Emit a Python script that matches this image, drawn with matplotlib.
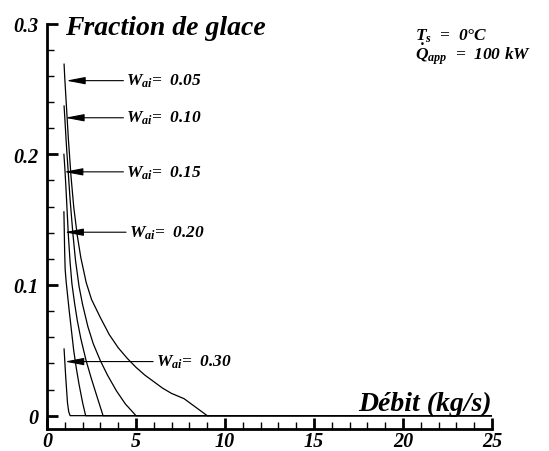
import matplotlib
matplotlib.use("Agg")
import matplotlib.pyplot as plt
from matplotlib.ticker import MultipleLocator, FuncFormatter

plt.rcParams['font.family'] = ['Liberation Serif', 'DejaVu Serif']
plt.rcParams['font.style'] = 'italic'
plt.rcParams['font.weight'] = 'bold'
plt.rcParams['mathtext.fontset'] = 'custom'
plt.rcParams['mathtext.rm'] = 'Liberation Serif:italic:bold'
plt.rcParams['mathtext.it'] = 'Liberation Serif:italic:bold'
plt.rcParams['mathtext.bf'] = 'Liberation Serif:italic:bold'

# ice fraction vs mass flow, one curve per Wai
x_005 = [0.96, 1.0, 1.1, 1.2, 1.35, 1.5, 1.7, 1.9, 2.2, 2.5, 3.0, 3.5, 4.0, 4.5, 5.0,
         5.5, 6.0, 6.5, 7.0, 7.7, 8.3, 9.0, 25]
y_005 = [0.269, 0.258, 0.235, 0.212, 0.183, 0.160, 0.138, 0.121, 0.102, 0.089, 0.075,
         0.062, 0.052, 0.044, 0.037, 0.031, 0.026, 0.021, 0.017, 0.013, 0.007, 0.0, 0.0]

x_010 = [0.96, 1.0, 1.1, 1.2, 1.3, 1.45, 1.6, 1.8, 2.0, 2.3, 2.6, 3.0, 3.4, 3.9, 4.4, 5.0, 25]
y_010 = [0.237, 0.228, 0.205, 0.185, 0.165, 0.140, 0.119, 0.099, 0.085, 0.068, 0.055,
         0.042, 0.031, 0.019, 0.009, 0.0, 0.0]

x_015 = [0.95, 1.0, 1.05, 1.1, 1.2, 1.3, 1.4, 1.55, 1.7, 1.9, 2.2, 2.5, 2.8, 3.15, 25]
y_015 = [0.200, 0.190, 0.178, 0.165, 0.138, 0.117, 0.101, 0.086, 0.073, 0.059, 0.042,
         0.028, 0.015, 0.0, 0.0]

x_020 = [0.95, 0.97, 0.99, 1.02, 1.08, 1.15, 1.25, 1.35, 1.5, 1.65, 1.8, 2.0, 2.17, 25]
y_020 = [0.156, 0.142, 0.127, 0.112, 0.102, 0.093, 0.080, 0.068, 0.050, 0.036, 0.024,
         0.010, 0.0, 0.0]

x_030 = [0.96, 1.05, 1.15, 1.22, 1.3, 25]
y_030 = [0.051, 0.030, 0.010, 0.003, 0.0, 0.0]

curves = [(x_005, y_005), (x_010, y_010), (x_015, y_015), (x_020, y_020), (x_030, y_030)]

labels = ['0.05', '0.10', '0.15', '0.20', '0.30']
label_y = [0.2564, 0.228, 0.1866, 0.1404, 0.0414]
label_x = [4.45, 4.45, 4.45, 4.6, 6.12]
tip_x = [1.08, 1.02, 0.95, 0.98, 1.0]

fig = plt.figure(figsize=(5.49, 4.52), dpi=100)
ax = fig.add_axes([0.0856, 0.0487, 0.8106, 0.8967])

for xs, ys in curves:
    ax.plot(xs, ys, color='black', lw=0.9)

for lab, ly, lx, tx in zip(labels, label_y, label_x, tip_x):
    ax.annotate(r'$W_{ai}$=  ' + lab, xy=(tx, ly), xytext=(lx, ly),
                fontsize=12.5, va='center', ha='left',
                arrowprops=dict(arrowstyle='-|>,head_length=1.15,head_width=0.22',
                                color='black', lw=0.8, shrinkA=0, shrinkB=0,
                                relpos=(0, 0.5), mutation_scale=10))

ax.set_xlim(0, 25)
ax.set_ylim(-0.0102, 0.3)
ax.spines['top'].set_visible(False)
ax.spines['right'].set_visible(False)
ax.spines['left'].set_linewidth(2)
ax.spines['bottom'].set_linewidth(2)

ax.xaxis.set_major_locator(MultipleLocator(5))
ax.xaxis.set_minor_locator(MultipleLocator(1))
ax.yaxis.set_major_locator(MultipleLocator(0.1))
ax.yaxis.set_minor_locator(MultipleLocator(0.02))
ax.yaxis.set_major_formatter(FuncFormatter(lambda v, p: '0' if abs(v) < 1e-9 else '%.1f' % v))
ax.tick_params(which='major', direction='in', length=8, width=2, labelsize=14.5)
ax.tick_params(which='minor', direction='in', length=5, width=1)
ax.tick_params(axis='y', which='major', pad=6)
ax.tick_params(axis='x', which='major', pad=1.5)

ax.text(1.0, 0.292, 'Fraction de glace', fontsize=20, ha='left', va='baseline', clip_on=False)
ax.text(25, 0.004, 'Débit (kg/s)', fontsize=20, ha='right', va='baseline')
ax.text(20.7, 0.2735, '$T_s$  =  0°C\n' + r'$\dot{Q}_{app}$  =  100 kW',
        fontsize=12.5, ha='left', va='baseline', linespacing=0.8)

fig.savefig('out.png', dpi=100)
